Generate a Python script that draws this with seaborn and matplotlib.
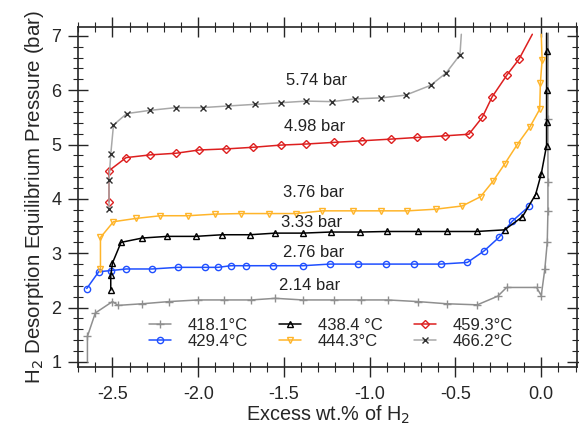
import numpy as np
import pandas as pd
import seaborn as sns
import matplotlib
matplotlib.use("Agg")
import matplotlib.pyplot as plt
from matplotlib.ticker import MultipleLocator

# data (x = excess wt.% H2, y = pressure in bar)
x_4181 = [-2.646, -2.646, -2.60, -2.50, -2.467, -2.325, -2.17, -2.0, -1.85, -1.69, -1.55, -1.39,
          -1.21, -1.05, -0.894, -0.72, -0.552, -0.373, -0.253, -0.202, -0.027, 0.0, 0.021, 0.035,
          0.039, 0.039, 0.039, 0.04]
y_4181 = [1.0, 1.47, 1.90, 2.11, 2.04, 2.07, 2.11, 2.14, 2.14, 2.14, 2.17, 2.14,
          2.14, 2.14, 2.14, 2.11, 2.07, 2.05, 2.21, 2.37, 2.37, 2.22, 2.71, 3.20,
          3.77, 4.31, 5.47, 7.05]

x_4294 = [-2.65, -2.58, -2.51, -2.42, -2.27, -2.12, -1.96, -1.885, -1.81, -1.72, -1.565, -1.39,
          -1.232, -1.07, -0.907, -0.742, -0.587, -0.431, -0.334, -0.247, -0.169, -0.072]
y_4294 = [2.35, 2.66, 2.68, 2.71, 2.71, 2.74, 2.74, 2.74, 2.77, 2.77, 2.77, 2.77,
          2.80, 2.80, 2.80, 2.80, 2.80, 2.83, 3.04, 3.29, 3.59, 3.86]

x_4384 = [-2.51, -2.51, -2.50, -2.45, -2.325, -2.18, -2.015, -1.86, -1.70, -1.55, -1.39,
          -1.228, -1.057, -0.90, -0.72, -0.552, -0.377, -0.214, -0.11, -0.033, 0.0, 0.031,
          0.031, 0.031, 0.031, 0.031]
y_4384 = [2.32, 2.59, 2.82, 3.20, 3.28, 3.31, 3.31, 3.34, 3.34, 3.37, 3.37,
          3.39, 3.39, 3.40, 3.40, 3.40, 3.40, 3.43, 3.67, 4.08, 4.46, 4.98,
          5.42, 6.0, 6.73, 7.05]

x_4443 = [-2.57, -2.57, -2.494, -2.364, -2.22, -2.06, -1.90, -1.75, -1.59, -1.43,
          -1.276, -1.10, -0.936, -0.78, -0.616, -0.46, -0.354, -0.28, -0.214, -0.14,
          -0.067, -0.009, -0.005, 0.005, 0.0]
y_4443 = [2.71, 3.29, 3.58, 3.64, 3.69, 3.69, 3.72, 3.73, 3.73, 3.73,
          3.78, 3.78, 3.78, 3.78, 3.81, 3.87, 4.04, 4.33, 4.64, 5.0,
          5.32, 5.65, 6.14, 6.55, 7.03]

x_4593 = [-2.52, -2.52, -2.42, -2.28, -2.13, -1.995, -1.836, -1.68, -1.52, -1.37,
          -1.21, -1.043, -0.878, -0.727, -0.563, -0.422, -0.344, -0.286, -0.20, -0.13, -0.052]
y_4593 = [3.94, 4.52, 4.76, 4.81, 4.84, 4.90, 4.92, 4.95, 4.99, 5.01,
          5.04, 5.07, 5.10, 5.13, 5.16, 5.19, 5.50, 5.88, 6.28, 6.57, 7.03]

x_4662 = [-2.52, -2.52, -2.51, -2.494, -2.417, -2.28, -2.13, -1.975, -1.826, -1.67, -1.52, -1.37,
          -1.218, -1.088, -0.932, -0.79, -0.645, -0.554, -0.474, -0.466]
y_4662 = [3.81, 4.35, 4.82, 5.36, 5.57, 5.63, 5.68, 5.68, 5.71, 5.74, 5.77, 5.80,
          5.79, 5.84, 5.86, 5.91, 6.09, 6.32, 6.65, 7.03]

plateau_labels = ["5.74 bar", "4.98 bar", "3.76 bar", "3.33 bar", "2.76 bar", "2.14 bar"]
plateau_x = [-1.31, -1.32, -1.33, -1.34, -1.33, -1.35]
plateau_y = [6.17, 5.34, 4.12, 3.56, 3.02, 2.41]

sns.set_style("ticks")
plt.rcParams['font.family'] = ['Liberation Sans', 'DejaVu Sans']

fig = plt.figure(figsize=(5.79, 4.25), dpi=100)
ax = fig.add_axes([0.135, 0.137, 0.862, 0.799])

# series: (x, y, label, line colour, marker, marker colour, marker size, which points get markers)
series = [
    (x_4181, y_4181, "418.1°C", "#8f8f8f", "+", "#8f8f8f", 6, slice(1, -1)),
    (x_4294, y_4294, "429.4°C", "#1f4fff", "o", "#1f4fff", 4.5, None),
    (x_4384, y_4384, "438.4 °C", "#000000", "^", "#000000", 4.5, slice(0, -1)),
    (x_4443, y_4443, "444.3°C", "#ffb52a", "v", "#ffb52a", 4.5, slice(0, -1)),
    (x_4593, y_4593, "459.3°C", "#dd1f1f", "D", "#dd1f1f", 4.5, slice(0, -1)),
    (x_4662, y_4662, "466.2°C", "#a8a8a8", "x", "#303030", 5, slice(0, -1)),
]

for xs, ys, lab, col, mk, mcol, ms, mev in series:
    df = pd.DataFrame({"x": xs, "y": ys})
    sns.lineplot(data=df, x="x", y="y", sort=False, estimator=None, ax=ax,
                 color=col, linewidth=1.1, marker=mk, markersize=ms, markevery=mev,
                 markerfacecolor="none", markeredgecolor=mcol, markeredgewidth=1.0,
                 label=lab)

for txt, xx, yy in zip(plateau_labels, plateau_x, plateau_y):
    ax.text(xx, yy, txt, ha="center", va="center", fontsize=12, color="#222222")

ax.set_xlim(-2.7, 0.21)
ax.set_ylim(0.91, 7.16)
ax.xaxis.set_minor_locator(MultipleLocator(0.1))
ax.yaxis.set_major_locator(MultipleLocator(1))
ax.yaxis.set_minor_locator(MultipleLocator(0.2))
ax.set_xticks([-2.5, -2.0, -1.5, -1.0, -0.5, 0.0])
ax.set_xticklabels(["-2.5", "-2.0", "-1.5", "-1.0", "-0.5", "0.0"])
ax.tick_params(which="major", direction="inout", length=14, width=1.0,
               top=True, right=True, labelsize=13)
ax.tick_params(axis="x", which="major", pad=7)
ax.tick_params(axis="y", which="major", pad=5)
ax.tick_params(which="minor", direction="inout", length=7, width=0.8, top=True, right=True)
for sp in ax.spines.values():
    sp.set_linewidth(1.2)

ax.set_xlabel("Excess wt.% of H$_2$", fontsize=14.3, labelpad=0)
ax.set_ylabel("H$_2$ Desorption Equilibrium Pressure (bar)", fontsize=14.8, labelpad=4)

ax.legend(ncol=3, loc="center", bbox_to_anchor=(0.506, 0.098), frameon=False,
          fontsize=12, handlelength=1.3, columnspacing=1.9, labelspacing=0.05,
          handletextpad=1.0)

fig.savefig("out.png", dpi=100)
